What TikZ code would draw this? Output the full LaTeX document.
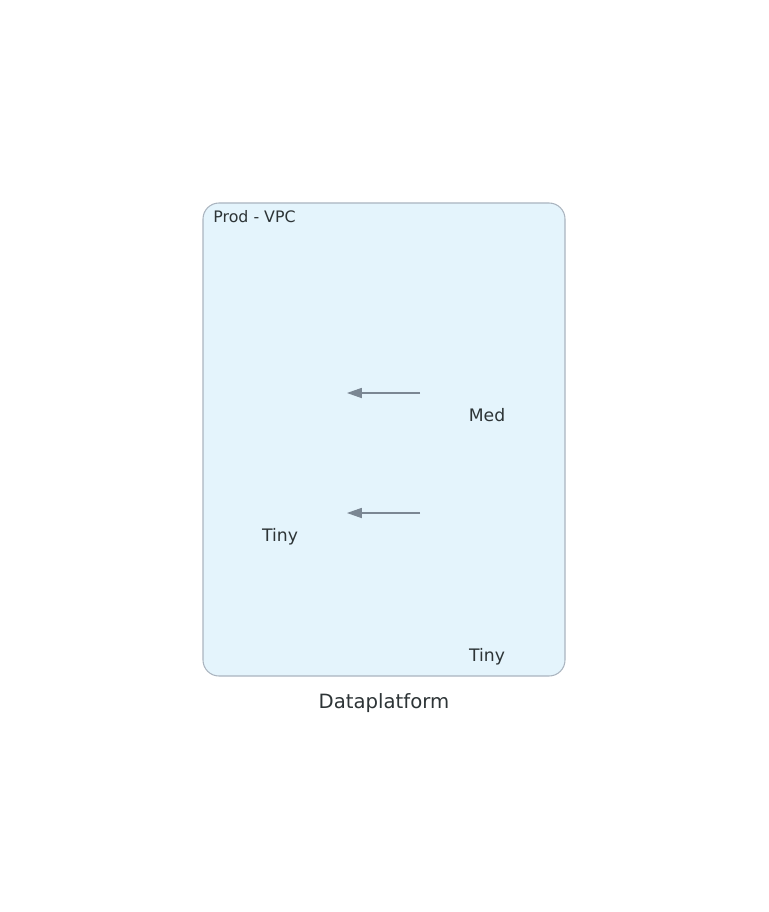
\documentclass[tikz,border=0pt]{standalone}
\usepackage{fontspec}
\setmainfont{DejaVu Sans}
\usepackage{tikz}
\usetikzlibrary{positioning,arrows.meta}
\definecolor{vpcfill}{HTML}{E4F4FC}
\definecolor{vpcline}{HTML}{AAB4BF}
\definecolor{flowgray}{HTML}{7B8793}
\definecolor{txt}{HTML}{2D3436}

\begin{document}
\begin{tikzpicture}[x=0.02cm, y=-0.02cm,
		vpc/.style={draw=vpcline, fill=vpcfill, line width=0.6pt, rounded corners=0.32cm},
		lbl/.style={text=txt, inner sep=0pt, font=\fontsize{9.8}{11}\selectfont},
		flow/.style={draw=flowgray, line width=0.6pt, -{Triangle[length=8.5pt, width=5.8pt]}}]
		\useasboundingbox (0,0) rectangle (768,912);
		% cluster
		\draw[vpc] (203,203) rectangle (565,676);
		\node[text=txt, anchor=west, inner sep=0pt, font=\fontsize{9}{10}\selectfont]
		(vpclabel) at (213,217) {Prod - VPC};
		% node labels
		\node[lbl] (med) at (487,415) {Med};
		\node[lbl] (tinyleft) at (280,537) {Tiny};
		\node[lbl] (tinyright) at (487,657) {Tiny};
		% connector ends
		\coordinate (medin) at (420,393);
		\coordinate (topout) at (347,393);
		\coordinate (midin) at (420,513);
		\coordinate (tinyout) at (347,513);
		\draw[flow] (medin) -- (topout);
		\draw[flow] (midin) -- (tinyout);
		% graph title
		\node[text=txt, inner sep=0pt, font=\fontsize{11.2}{13}\selectfont]
		(title) at (384,703) {Dataplatform};
	\end{tikzpicture}
\end{document}
